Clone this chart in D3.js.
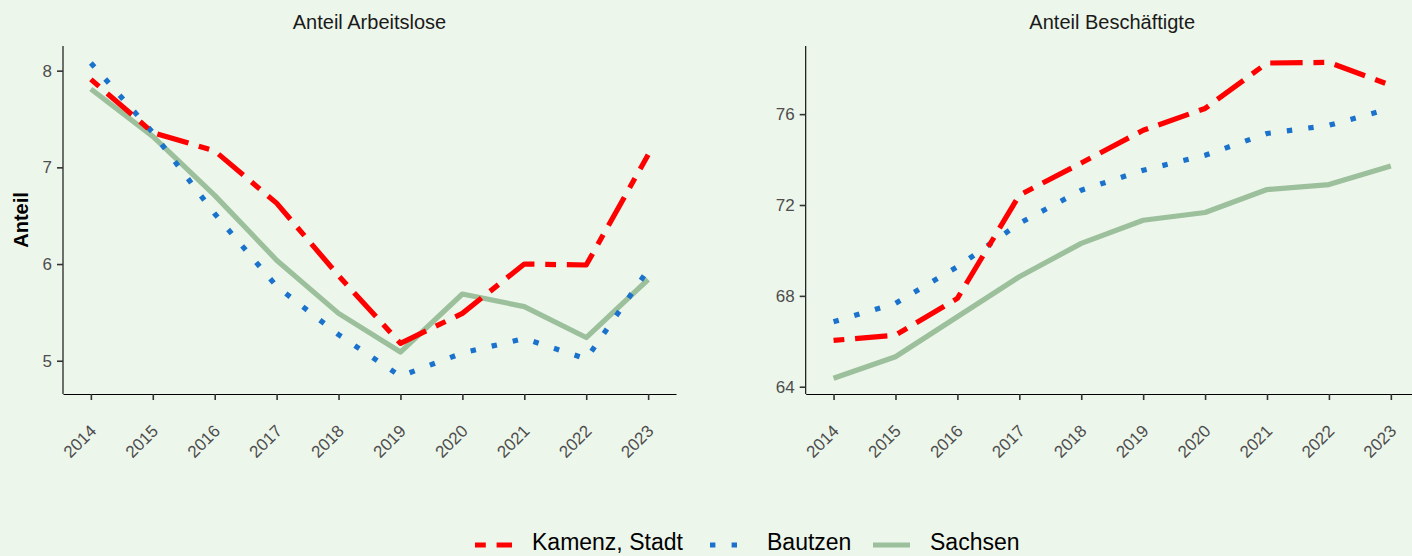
<!DOCTYPE html>
<html>
<head>
<meta charset="utf-8">
<script src="https://cdn.jsdelivr.net/npm/d3@7"></script>
<style>
  html, body { margin: 0; padding: 0; background: #edf6eb; }
  svg { display: block; font-family: "Liberation Sans", Arial, sans-serif; }
</style>
</head>
<body>
<svg width="1412" height="556"></svg>
<script>
'use strict';

// data
const years = [2014, 2015, 2016, 2017, 2018, 2019, 2020, 2021, 2022, 2023];
const seriesNames = ["Kamenz, Stadt", "Bautzen", "Sachsen"];

const alKamenz  = [7.91, 7.36, 7.17, 6.63, 5.88, 5.18, 5.49, 6.00, 5.99, 7.13];
const alBautzen = [8.08, 7.36, 6.52, 5.77, 5.27, 4.84, 5.08, 5.23, 5.02, 5.94];
const alSachsen = [7.81, 7.32, 6.71, 6.04, 5.49, 5.09, 5.69, 5.56, 5.24, 5.84];

const bsKamenz  = [66.04, 66.27, 67.89, 72.43, 73.85, 75.29, 76.25, 78.25, 78.28, 77.27];
const bsBautzen = [66.86, 67.67, 69.28, 71.19, 72.65, 73.53, 74.19, 75.15, 75.51, 76.25];
const bsSachsen = [64.37, 65.32, 67.08, 68.84, 70.31, 71.33, 71.67, 72.68, 72.90, 73.72];

const leftTicks = [5, 6, 7, 8];
const rightTicks = [64, 68, 72, 76];

const colors = {"Kamenz, Stadt": "#ff0000", "Bautzen": "#1a72cc", "Sachsen": "#9cc09c"};
const dashes = {"Kamenz, Stadt": "10.8,10.8,32.4,10.8", "Bautzen": "5.4,16.2", "Sachsen": null};

let svg = d3.select("svg"),
    width = +svg.attr("width"),
    height = +svg.attr("height");

let panelTop = 46, panelBottom = 394;

let panels = [
  {title: "Anteil Arbeitslose", x0: 63, x1: 676, domain: [4.656, 8.255], ticks: leftTicks,
   series: [["Sachsen", alSachsen], ["Bautzen", alBautzen], ["Kamenz, Stadt", alKamenz]]},
  {title: "Anteil Beschäftigte", x0: 805.7, x1: 1418.7, domain: [63.68, 79.0], ticks: rightTicks,
   series: [["Sachsen", bsSachsen], ["Bautzen", bsBautzen], ["Kamenz, Stadt", bsKamenz]]}
];

panels.forEach(function(p){
  var x = d3.scaleLinear().domain([2014 - 0.45, 2023 + 0.45]).range([p.x0, p.x1]);
  var y = d3.scaleLinear().domain(p.domain).range([panelBottom, panelTop]);
  var g = svg.append("g");

  // lines
  var line = d3.line()
      .x(function(d){ return x(d[0]); })
      .y(function(d){ return y(d[1]); });
  p.series.forEach(function(s){
    var pts = years.map(function(yr, i){ return [yr, s[1][i]]; });
    g.append("path")
      .datum(pts)
      .attr("d", line)
      .attr("fill", "none")
      .attr("stroke", colors[s[0]])
      .attr("stroke-width", 5.2)
      .attr("stroke-linejoin", "round")
      .attr("stroke-dasharray", dashes[s[0]]);
  });

  // axes
  var xAxis = g.append("g")
      .attr("transform", "translate(0," + panelBottom + ")")
      .call(d3.axisBottom(x).tickValues(years).tickSize(6).tickSizeOuter(0).tickFormat(d3.format("d")));
  xAxis.select(".domain").attr("stroke", "#000").attr("stroke-width", 1.1);
  xAxis.selectAll(".tick line").attr("stroke", "#333").attr("stroke-width", 1.6);
  xAxis.selectAll(".tick text")
      .attr("fill", "#4d4d4d")
      .attr("font-size", 17)
      .attr("text-anchor", "end")
      .attr("y", 0).attr("dy", 0)
      .attr("transform", "translate(6,38) rotate(-45)");

  var yAxis = g.append("g")
      .attr("transform", "translate(" + p.x0 + ",0)")
      .call(d3.axisLeft(y).tickValues(p.ticks).tickSize(6).tickSizeOuter(0).tickPadding(5)
              .tickFormat(d3.format("d")));
  yAxis.select(".domain").attr("stroke", "#000").attr("stroke-width", 1.1)
      .attr("d", "M0," + panelTop + "V" + panelBottom);
  yAxis.selectAll(".tick line").attr("stroke", "#333").attr("stroke-width", 1.6);
  yAxis.selectAll(".tick text").attr("fill", "#4d4d4d").attr("font-size", 17);

  g.append("text")
    .attr("x", (p.x0 + p.x1) / 2)
    .attr("y", 29)
    .attr("text-anchor", "middle")
    .attr("font-size", 20)
    .attr("fill", "#1a1a1a")
    .text(p.title);
});

// y axis title
svg.append("text")
  .attr("transform", "translate(28," + (panelTop + panelBottom) / 2 + ") rotate(-90)")
  .attr("text-anchor", "middle")
  .attr("font-size", 20)
  .attr("font-weight", "bold")
  .text("Anteil");

// legend
var legendX = [475, 710, 873];
var legend = svg.append("g");
seriesNames.forEach(function(n, i){
  legend.append("line")
    .attr("x1", legendX[i]).attr("x2", legendX[i] + 37)
    .attr("y1", 545).attr("y2", 545)
    .attr("stroke", colors[n])
    .attr("stroke-width", 5.2)
    .attr("stroke-dasharray", dashes[n]);
  legend.append("text")
    .attr("x", legendX[i] + 57)
    .attr("y", 550)
    .attr("font-size", 23)
    .attr("fill", "#000")
    .text(n);
});
</script>
</body>
</html>
